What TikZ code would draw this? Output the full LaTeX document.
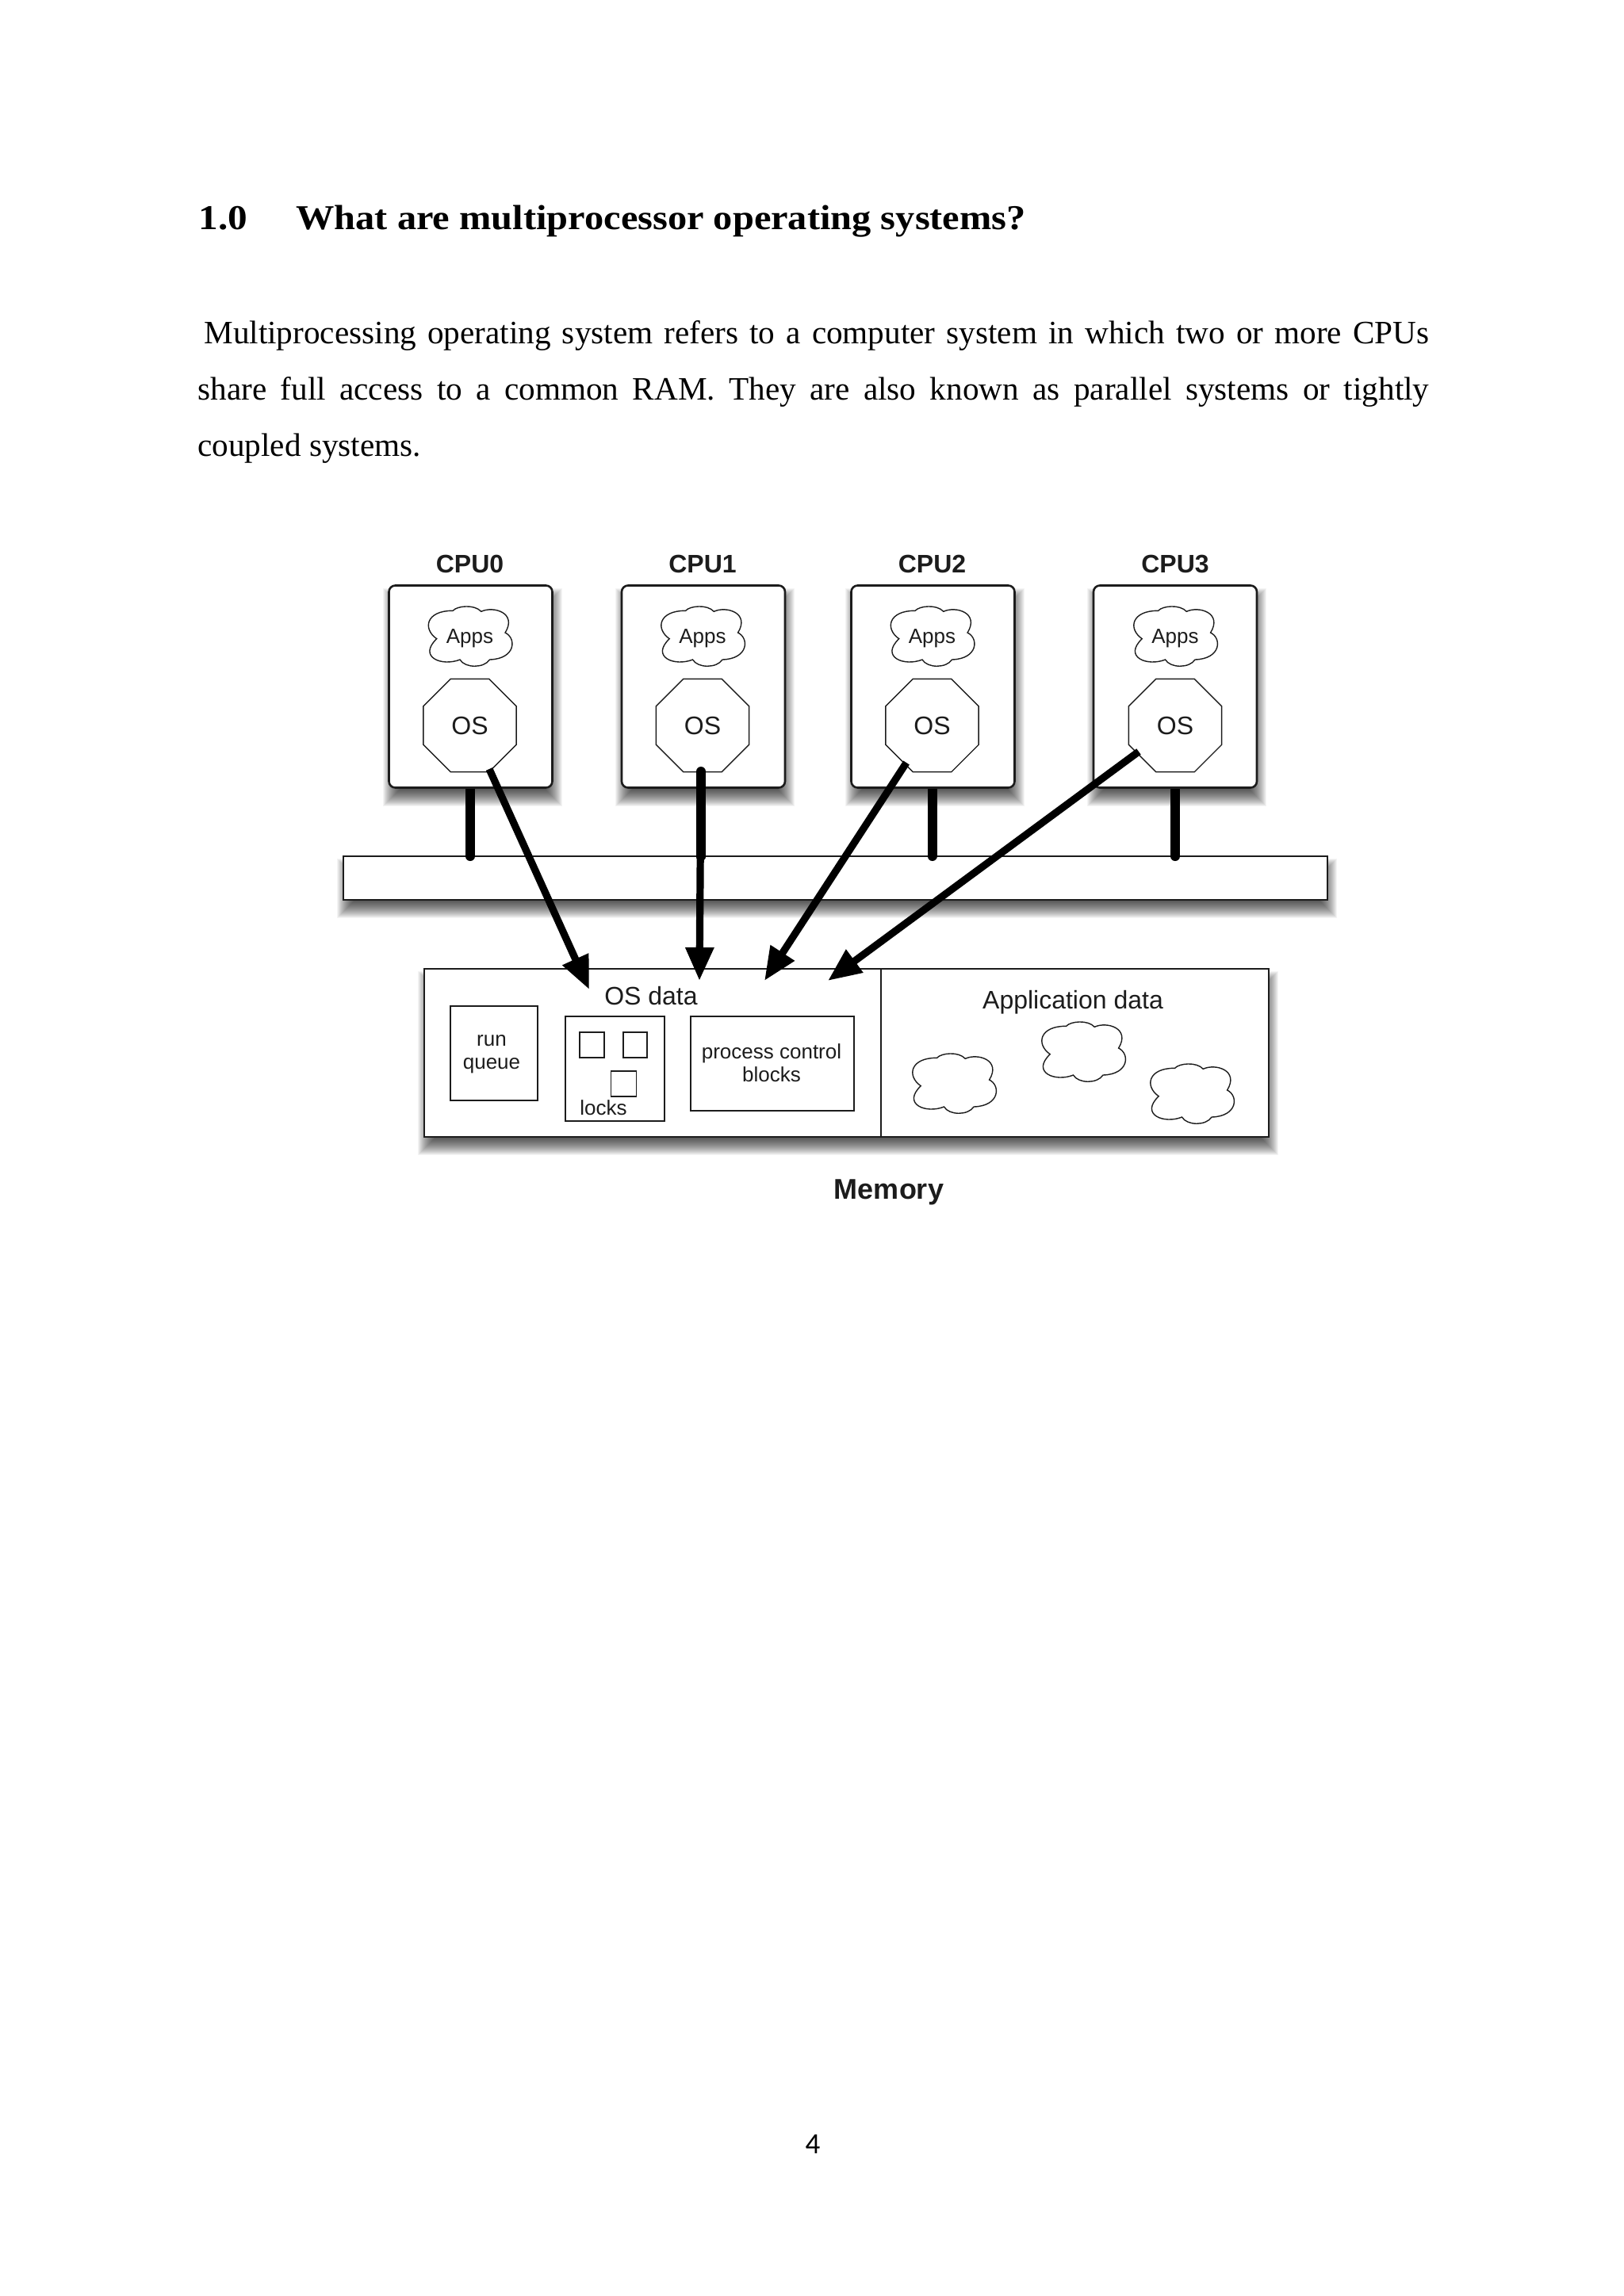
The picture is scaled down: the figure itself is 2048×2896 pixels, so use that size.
\documentclass[tikz,border=0pt]{standalone}
\usepackage{fontspec}
\setmainfont{Liberation Serif}
\newfontfamily\dsans{Liberation Sans}
\newfontfamily\pgnum{Carlito}
\usetikzlibrary{calc,arrows.meta,shapes.geometric}
\pgfdeclarelayer{shadowlayer}
\pgfsetlayers{shadowlayer,main}
\definecolor{ink}{HTML}{1C1C1C}
\tikzset{
  lab/.style={font=\dsans\fontsize{13}{14.5}\selectfont,text=ink,inner sep=0pt,align=center},
  big/.style={font=\dsans\fontsize{16}{18}\selectfont,text=ink,inner sep=0pt},
  cpulab/.style={font=\dsans\bfseries\fontsize{16}{18}\selectfont,text=ink,inner sep=0pt},
  cpubox/.style={draw=ink,fill=white,line width=1.3pt,rounded corners=4pt,minimum width=103pt,minimum height=127.5pt,inner sep=0pt,outer sep=0pt},
  osnode/.style={regular polygon,regular polygon sides=8,minimum size=63.5pt,draw=ink,fill=white,line width=.7pt,inner sep=0pt,outer sep=0pt,font=\dsans\fontsize{16}{18}\selectfont,text=ink},
  plainbox/.style={draw=ink,fill=white,line width=1.2pt,inner sep=0pt,outer sep=0pt},
  innerbox/.style={draw=ink,fill=white,line width=.9pt,inner sep=0pt,outer sep=0pt},
  thinbox/.style={draw=ink,line width=.9pt,inner sep=0pt,outer sep=0pt,font=\dsans\fontsize{13}{14}\selectfont,text=ink,align=center},
  busline/.style={draw=black,line width=6pt,line cap=round},
  bigarrow/.style={draw=black,line width=4.6pt,-{Triangle[length=21pt,width=17pt]}},
  cloudpic/.pic={
    \draw[ink,line width=.7pt,fill=white]
      (-41.8,2.7) .. controls (-60,-10) and (-55,-33) .. (-21.4,-32.7)
      .. controls (-16,-39) and (6,-41) .. (14.3,-31.7)
      .. controls (30,-39) and (60,-30) .. (44.6,-5)
      .. controls (59,2) and (58,28) .. (25,29)
      .. controls (18,40) and (-6,40) .. (-12.5,29)
      .. controls (-35,38) and (-66,26) .. (-41.8,2.7) -- cycle;
  }
}
\newcommand{\softshadow}[1]{%
  \begin{pgfonlayer}{shadowlayer}
    \foreach \r in {-13,-12,...,10}{
      \fill[black,opacity=0.042] ($(#1.south west)+(2-\r,13+\r)$) rectangle ($(#1.north east)+(2+\r,13-\r)$);
    }
  \end{pgfonlayer}}
\begin{document}
\begin{tikzpicture}[x=0.5pt,y=-0.5pt]
\begin{pgfonlayer}{shadowlayer}
  \fill[white] (0,0) rectangle (2048,2896);
\end{pgfonlayer}
\useasboundingbox (0,0) rectangle (2048,2896);

% page text
\node[anchor=base west,inner sep=0pt,font=\bfseries\fontsize{22}{24}\selectfont] (secnum) at (250,289) {\scalebox{1.12}[1]{1.0}};
\node[anchor=base west,inner sep=0pt,font=\bfseries\fontsize{22}{24}\selectfont] (sectitle) at (373,289) {\scalebox{1.1}[1]{What are multiprocessor operating systems?}};
\node[anchor=north west,inner sep=0pt,text width=776.5pt,align=justify,font=\fontsize{20.6}{35.6}\selectfont] (para) at (249,404)
 {\hspace*{4pt}Multiprocessing operating system refers to a computer system in which two or more CPUs\linebreak share full access to a common RAM. They are also known as parallel systems or tightly\linebreak coupled systems.};
\node[anchor=base,inner sep=0pt,font=\pgnum\fontsize{18.5}{22}\selectfont] (pagenum) at (1025,2716) {4};

% bus and memory boxes
\node[plainbox,minimum width=620.5pt,minimum height=27.5pt] (bus) at (1053.5,1107.5) {};
\node[plainbox,minimum width=532.5pt,minimum height=106pt] (mem) at (1067.5,1328) {};
\softshadow{bus}
\softshadow{mem}

% links to bus, below the CPU boxes
\coordinate (b0) at (593,993);
\coordinate (b1) at (884,973);
\coordinate (b2) at (1175.5,993);
\coordinate (b3) at (1482,993);
\foreach \i in {0,1,2,3}{
  \draw[busline] (b\i) -- (b\i |- bus.north);
}

% CPU boxes
\foreach \i/\cx/\oy in {0/593.5/592.5,1/887/886,2/1176.5/1175.5,3/1482/1482}{
  \node[cpubox] (cpu\i) at (\cx,866) {};
  \softshadow{cpu\i}
  \node[cpulab,anchor=base] (cpulabel\i) at (\oy,722) {CPU\i};
  \pic (appcloud\i) at (\oy,803) {cloudpic};
  \node[lab,anchor=base] (apps\i) at (\oy,811) {Apps};
  \node[osnode] (os\i) at (\oy,915) {OS};
}
\draw[busline] (b1) -- (b1 |- bus.north);

% memory contents
\draw[ink,line width=.8pt] (1111,1222) coordinate (split) -- (split |- mem.south);
\node[big,anchor=base] (osdata) at (821,1267) {OS data};
\node[big,anchor=base] (appdata) at (1353,1272) {Application data};
\node[thinbox,minimum width=55pt,minimum height=59.5pt] (runq) at (623,1328.5) {};
\node[lab] (runlabel) at (620,1330) {run\\queue};
\node[innerbox,minimum width=62.5pt,minimum height=66pt] (locksbox) at (775.5,1348) {};
\node[thinbox,minimum width=15.5pt,minimum height=16pt] (lock0) at (746.5,1318) {};
\node[thinbox,minimum width=15pt,minimum height=16pt] (lock1) at (801,1318) {};
\node[thinbox,minimum width=16pt,minimum height=16pt] (lock2) at (786.5,1367) {};
\node[lab,anchor=base] (lockslab) at (761,1406) {locks};
\node[thinbox,minimum width=103pt,minimum height=59.5pt] (pcb) at (974,1341.5) {};
\node[lab] (pcblabel) at (973,1341) {process control\\blocks};
\pic (datacloud0) at (1203,1367) {cloudpic};
\pic (datacloud1) at (1366,1327) {cloudpic};
\pic (datacloud2) at (1503,1380) {cloudpic};
\node[cpulab,font=\dsans\bfseries\fontsize{18}{20}\selectfont,anchor=base] (memlabel) at (1121,1512) {Memory};

% arrows from OS to OS data
\coordinate (a0s) at (617,970);
\coordinate (a1s) at (884,975);
\coordinate (a2s) at (1143,962);
\coordinate (a3s) at (1436,948);
\coordinate (a0e) at (743,1248);
\coordinate (a1e) at (882,1237);
\coordinate (a2e) at (964,1237);
\coordinate (a3e) at (1044,1237);
\foreach \i in {0,1,2,3}{
  \draw[bigarrow] (a\i s) -- (a\i e);
}
\end{tikzpicture}
\end{document}
